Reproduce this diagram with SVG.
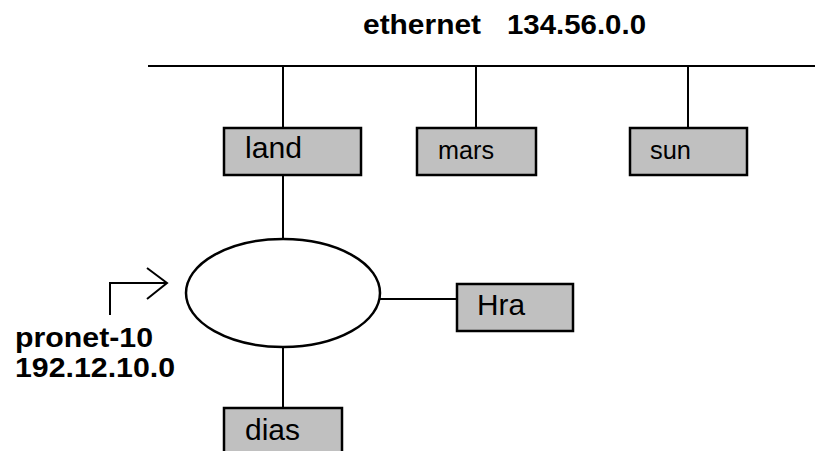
<svg xmlns="http://www.w3.org/2000/svg" width="815" height="451" viewBox="0 0 815 451">
<style>
.box{fill:#c0c0c0;stroke:#000;stroke-width:2.5}
.ln{stroke:#000;stroke-width:2;fill:none}
.lbl{font-family:"Liberation Sans",Arial,sans-serif;font-size:29px;fill:#000}
.sm{font-size:25px}
.bold{font-family:"Liberation Sans",Arial,sans-serif;font-weight:bold;fill:#000}
</style>
<rect width="815" height="451" fill="#fff"/>
<g id="connectors">
<line class="ln" x1="148" y1="66" x2="815" y2="66"/>
<line class="ln" x1="283" y1="66" x2="283" y2="128"/>
<line class="ln" x1="476" y1="66" x2="476" y2="128"/>
<line class="ln" x1="688" y1="66" x2="688" y2="128"/>
<line class="ln" x1="283" y1="175" x2="283" y2="239"/>
<line class="ln" x1="283" y1="347" x2="283" y2="408"/>
<line class="ln" x1="380" y1="299" x2="457" y2="299"/>
<polyline class="ln" points="110,315 110,283 167,283"/>
<polyline class="ln" points="147,268 167,283 147,299"/>
</g>
<g id="ethernet">
<text class="bold" x="363" y="34" font-size="28" textLength="118" lengthAdjust="spacingAndGlyphs">ethernet</text>
<text class="bold" x="507" y="34" font-size="28" textLength="139" lengthAdjust="spacingAndGlyphs">134.56.0.0</text>
</g>
<g id="land">
<rect class="box" x="224" y="128" width="137" height="47"/>
<text class="lbl" x="245" y="158" textLength="57" lengthAdjust="spacingAndGlyphs">land</text>
</g>
<g id="mars">
<rect class="box" x="417" y="128" width="119" height="47"/>
<text class="lbl sm" x="438" y="159" textLength="56" lengthAdjust="spacingAndGlyphs">mars</text>
</g>
<g id="sun">
<rect class="box" x="630" y="128" width="117" height="47"/>
<text class="lbl sm" x="650" y="159" textLength="41" lengthAdjust="spacingAndGlyphs">sun</text>
</g>
<g id="pronet">
<ellipse cx="283" cy="293" rx="97" ry="54" fill="#fff" stroke="#000" stroke-width="2.5"/>
</g>
<g id="hra">
<rect class="box" x="457" y="284" width="116" height="47"/>
<text class="lbl" x="477" y="315" textLength="48" lengthAdjust="spacingAndGlyphs">Hra</text>
</g>
<g id="dias">
<rect class="box" x="224" y="408" width="118" height="50"/>
<text class="lbl" x="245" y="440" textLength="55" lengthAdjust="spacingAndGlyphs">dias</text>
</g>
<g id="pronet-label">
<text class="bold" x="15" y="347" font-size="28" textLength="138" lengthAdjust="spacingAndGlyphs">pronet-10</text>
<text class="bold" x="15" y="377" font-size="28" textLength="160" lengthAdjust="spacingAndGlyphs">192.12.10.0</text>
</g>
</svg>
